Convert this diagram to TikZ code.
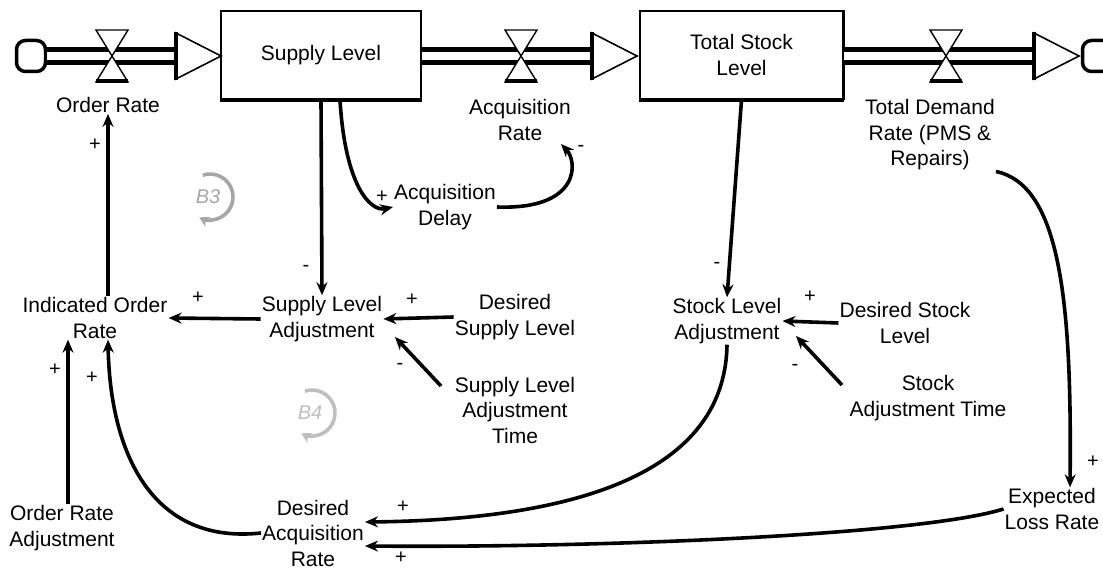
\documentclass[tikz,border=0pt]{standalone}
\usepackage{fontspec}
\setmainfont{Liberation Sans}
\usetikzlibrary{arrows.meta}
\begin{document}
\begin{tikzpicture}[x=1pt,y=-1pt,
  lbl/.style={align=center, font=\fontsize{21}{25.5}\selectfont, inner sep=1pt},
  link/.style={line width=3.6pt, -{Stealth[length=13pt,width=11pt]}},
  pol/.style={font=\fontsize{20}{20}\selectfont, inner sep=0pt},
  stockbox/.style={draw, line width=1.8pt, minimum width=200pt, minimum height=88pt, align=center, font=\fontsize{21}{25.5}\selectfont},
  pipe/.style={line width=4.5pt, double=white, double distance=8.5pt},
  cloudc/.style={rectangle, rounded corners=9pt, draw, line width=3.5pt, minimum width=29pt, minimum height=31pt, inner sep=0pt},
  loopsym/.style={line width=3.6pt, -{Stealth[length=10pt,width=11pt]}},
  valve/.pic={
    \draw[fill=white, line width=1.4pt] (-16,-26) -- (16,-26) -- (0,0) -- cycle;
    \draw[fill=white, line width=1.4pt] (0,0) -- (-16,26) -- (16,26) -- cycle;
    \draw[line width=4pt] (-16,25) -- (16,25);
  },
  flowhead/.pic={
    \draw[fill=white, line width=1.6pt] (0,-23) -- (45,0) -- (0,23) -- cycle;
    \draw[line width=4.5pt] (0,-24) -- (0,24);
  },
]
\useasboundingbox (0,0) rectangle (1103,569);

% stocks
\node[stockbox] (sup) at (321,55) {Supply Level};
\node[stockbox, minimum width=203pt] (tsl) at (741.5,55) {Total Stock\\Level};
\draw[line width=4.5pt] (sup.south west) -- (sup.south east);
\draw[line width=4.5pt] (tsl.south west) -- (tsl.south east);
\draw[line width=3pt] (tsl.north east) -- (tsl.south east);

% source and sink
\node[cloudc] (src) at (31,56) {};
\node[cloudc] (snk) at (1097,56) {};
\coordinate (h1) at (176,56);
\coordinate (h2) at (592,56);
\coordinate (h3) at (1034,56);

% pipes
\draw[pipe] (src.east) -- (h1);
\draw[pipe] (sup.east |- h2) -- (h2);
\draw[pipe] (tsl.east |- h3) -- (h3);
\pic at (112,56) {valve};
\pic at (521,56) {valve};
\pic at (946,56) {valve};
\pic at (h1) {flowhead};
\pic at (h2) {flowhead};
\pic at (h3) {flowhead};

% variables
\node[lbl] (orate) at (108,105) {Order Rate};
\node[lbl] (arate) at (520,120) {Acquisition\\Rate};
\node[lbl] (tdr) at (930,135) {Total Demand\\Rate (PMS \&\\Repairs)};
\node[lbl] (adelay) at (445,207) {Acquisition\\Delay};
\node[lbl] (ior) at (95,318) {Indicated Order\\Rate};
\node[lbl] (sla) at (322,319) {Supply Level\\Adjustment};
\node[lbl] (dsl) at (515,317) {Desired\\Supply Level};
\node[lbl] (slat) at (515,410) {Supply Level\\Adjustment\\Time};
\node[lbl] (stla) at (727,321) {Stock Level\\Adjustment};
\node[lbl] (dstl) at (905,323) {Desired Stock\\Level};
\node[lbl] (sat) at (928,398) {Stock\\Adjustment Time};
\node[lbl] (ora) at (62,528) {Order Rate\\Adjustment};
\node[lbl] (dar) at (313,533) {Desired\\Acquisition\\Rate};
\node[lbl] (elr) at (1052,509) {Expected\\Loss Rate};

% links
\draw[link] ([xshift=13pt]ior.north) -- ([xshift=13pt]ior.north |- orate.south);
\draw[link] (sup.south) -- (sla.north);
\draw[link] ([xshift=19pt]sup.south) .. controls (345,185) and (370,212) .. (adelay.west);
\draw[link] (adelay.east) .. controls (580,210) and (578,162) .. (561,144);
\draw[link] (sla.west) -- (ior.east);
\draw[link] (dsl.west) -- (sla.east);
\draw[link] (441,386) -- (395,337);
\draw[link] (tsl.south) -- (stla.north);
\draw[link] (dstl.west) -- (stla.east);
\draw[link] (842,385) -- (796,336);
\draw[link] (tdr.south east) .. controls (1060,185) and (1072,300) .. ([xshift=18pt]elr.north);
\draw[link] (stla.south) .. controls (725,480) and (560,520) .. ([yshift=11pt]dar.east);
\draw[link] (elr.west) .. controls (920,535) and (600,548) .. ([yshift=-13pt]dar.east);
\draw[link] (dar.west) .. controls (150,545) and (110,450) .. ([xshift=13pt]ior.south);
\draw[link] ([xshift=6pt]ora.north) -- ([xshift=-27pt]ior.south);

% polarities
\node[pol] at (95,145) {+};
\node[pol] at (306,268) {-};
\node[pol] at (382,197) {+};
\node[pol] at (581,148) {-};
\node[pol] at (198,298) {+};
\node[pol] at (412,300) {+};
\node[pol] at (400,366) {-};
\node[pol] at (717,265) {-};
\node[pol] at (810,297) {+};
\node[pol] at (795,367) {-};
\node[pol] at (1093,462) {+};
\node[pol] at (403,507) {+};
\node[pol] at (401,558) {+};
\node[pol] at (92,378) {+};
\node[pol] at (55,370) {+};

% loop symbols
\coordinate (b3) at (210,197);
\draw[loopsym, gray!70] ([shift={(-108:23)}]b3) arc (-108:118:23);
\node[text=gray!70, font=\fontsize{20}{20}\selectfont\itshape] (b3t) at ([xshift=-2pt]b3) {B3};
\coordinate (b4) at (312,413);
\draw[loopsym, gray!50] ([shift={(-108:23)}]b4) arc (-108:118:23);
\node[text=gray!50, font=\fontsize{20}{20}\selectfont\itshape] (b4t) at ([xshift=-2pt]b4) {B4};
\end{tikzpicture}
\end{document}
